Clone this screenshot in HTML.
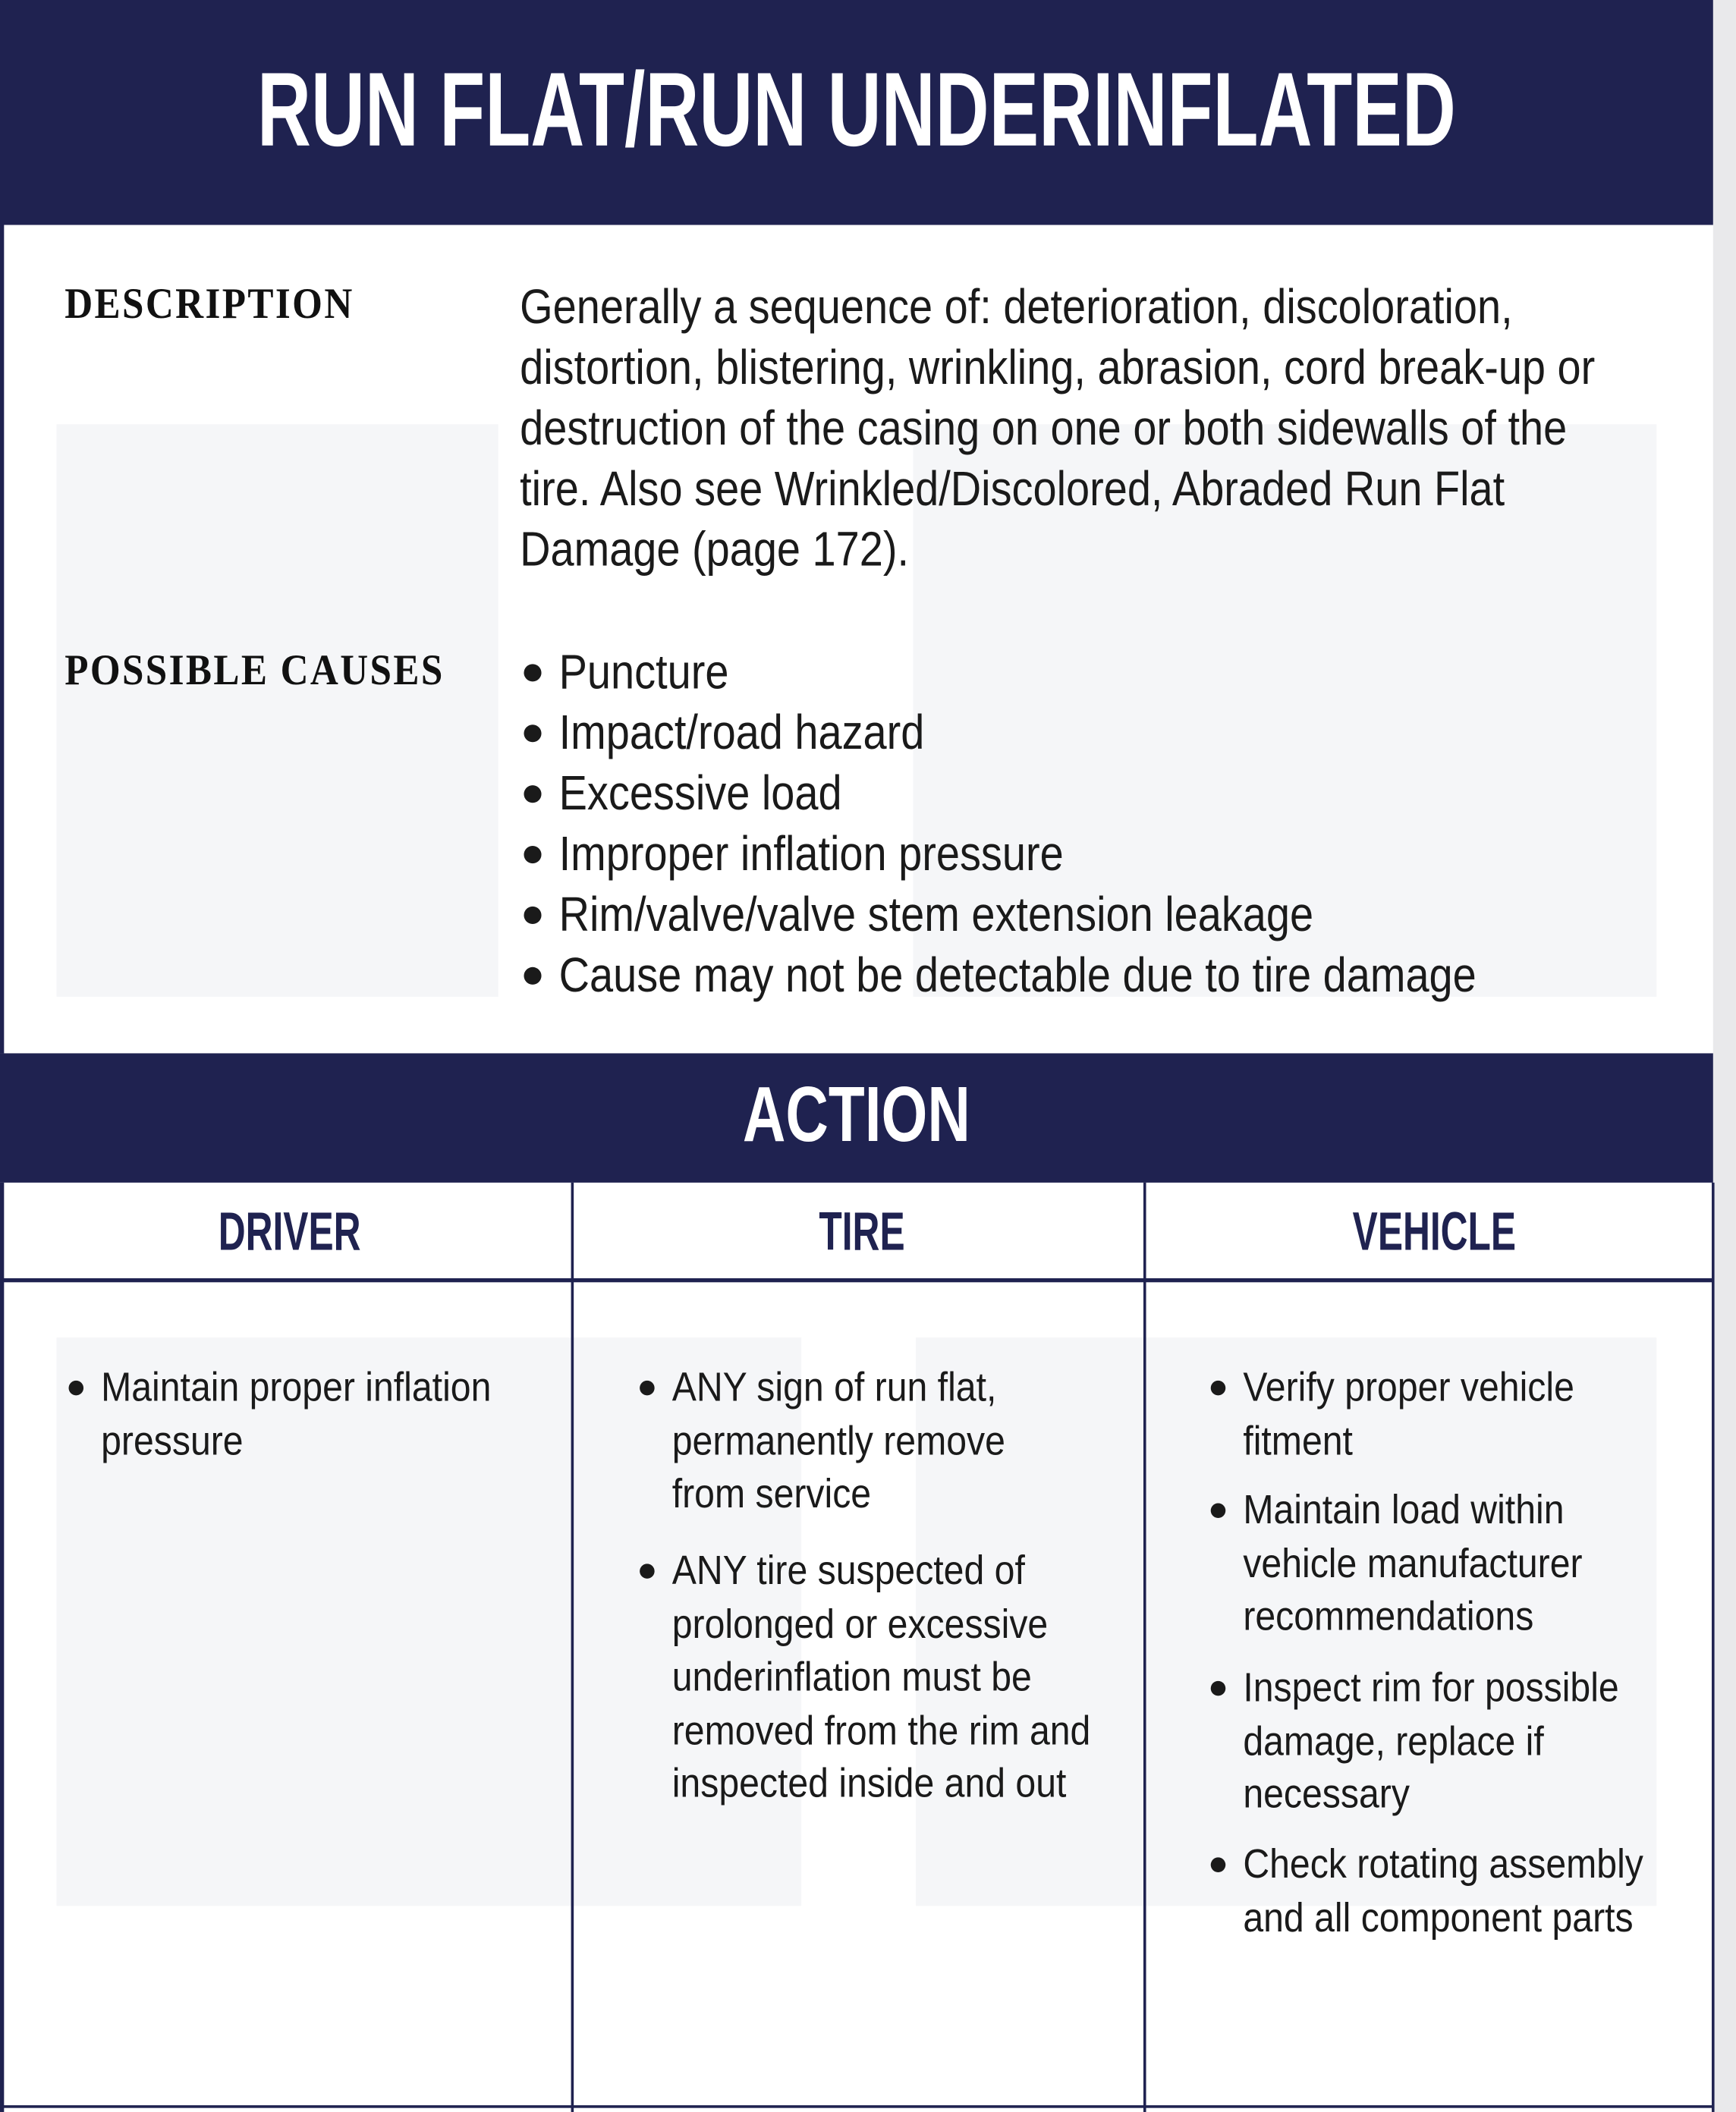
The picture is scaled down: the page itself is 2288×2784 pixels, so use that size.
<!DOCTYPE html>
<html><head><meta charset="utf-8"><style>
html,body{margin:0;padding:0;background:#fff;}
body{width:2288px;height:2784px;overflow:hidden;position:relative;}
#s{position:absolute;left:0;top:0;width:1289px;height:1568px;transform:scale(1.775,1.7755);transform-origin:0 0;background:#fff;font-family:"Liberation Sans",sans-serif;}
.a{position:absolute;white-space:nowrap;}
.t{font-size:36px;line-height:45px;color:#1a1a1a;transform:scaleX(0.875);transform-origin:0 0;}
.c{font-size:30.5px;line-height:39.5px;color:#1a1a1a;transform:scaleX(0.89);transform-origin:0 0;}
.lab{font-family:"Liberation Serif",serif;font-weight:bold;font-size:32px;color:#111;transform:scaleX(0.9);transform-origin:0 0;letter-spacing:1.5px;}
.navy{background:#1f2250;}
.gr{position:absolute;background:#f5f6f8;}
.hd{font-weight:bold;color:#1f2250;font-size:40px;width:400px;text-align:center;transform:scaleX(0.7);transform-origin:center 0;}
.d{position:absolute;width:13px;height:13px;border-radius:50%;background:#1a1a1a;}
.ds{position:absolute;width:11px;height:11px;border-radius:50%;background:#1a1a1a;}
</style></head><body><div id="s">
<div class="a" style="left:1272px;top:0;width:17px;height:1568px;background:#e9e9eb"></div>
<div class="a navy" style="left:0;top:0;width:1272px;height:167px"></div>
<div class="a" style="left:0;top:36px;width:1272px;text-align:center;color:#fff;font-weight:bold;font-size:78px;line-height:90px;transform:scaleX(0.71);transform-origin:636px 0">RUN FLAT/RUN UNDERINFLATED</div>
<div class="a" style="left:0;top:167px;width:3px;height:615px;background:#1f2250"></div>
<div class="gr" style="left:42px;top:315px;width:328px;height:425px"></div>
<div class="gr" style="left:678px;top:315px;width:552px;height:425px"></div>
<div class="a lab" style="left:48px;top:207px">DESCRIPTION</div>
<div class="a lab" style="left:48px;top:479px">POSSIBLE CAUSES</div>
<div class="a t" style="left:386px;top:205px">Generally a sequence of: deterioration, discoloration,<br>distortion, blistering, wrinkling, abrasion, cord break-up or<br>destruction of the casing on one or both sidewalls of the<br>tire. Also see Wrinkled/Discolored, Abraded Run Flat<br>Damage (page 172).</div>
<div class="d" style="left:389px;top:493px"></div>
<div class="d" style="left:389px;top:538px"></div>
<div class="d" style="left:389px;top:583px"></div>
<div class="d" style="left:389px;top:628px"></div>
<div class="d" style="left:389px;top:673px"></div>
<div class="d" style="left:389px;top:718px"></div>
<div class="a t" style="left:415px;top:476px">Puncture<br>Impact/road hazard<br>Excessive load<br>Improper inflation pressure<br>Rim/valve/valve stem extension leakage<br>Cause may not be detectable due to tire damage</div>
<div class="a navy" style="left:0;top:782px;width:1272px;height:96px"></div>
<div class="a" style="left:0;top:796px;width:1272px;text-align:center;color:#fff;font-weight:bold;font-size:58px;line-height:64px;transform:scaleX(0.76);transform-origin:636px 0">ACTION</div>
<div class="gr" style="left:42px;top:993px;width:553px;height:422px"></div>
<div class="gr" style="left:680px;top:993px;width:550px;height:422px"></div>
<div class="a" style="left:0;top:878px;width:3px;height:690px;background:#1f2250"></div>
<div class="a" style="left:424px;top:878px;width:2px;height:690px;background:#1f2250"></div>
<div class="a" style="left:849px;top:878px;width:2px;height:690px;background:#1f2250"></div>
<div class="a" style="left:1271px;top:878px;width:2px;height:690px;background:#1f2250"></div>
<div class="a" style="left:0;top:949px;width:1272px;height:3px;background:#1f2250"></div>
<div class="a" style="left:0;top:1563px;width:1272px;height:2px;background:#1f2250"></div>
<div class="a hd" style="left:15px;top:893px">DRIVER</div>
<div class="a hd" style="left:440px;top:893px">TIRE</div>
<div class="a hd" style="left:865px;top:893px">VEHICLE</div>
<div class="ds" style="left:51px;top:1025px"></div>
<div class="a c" style="left:75px;top:1011px">Maintain proper inflation<br>pressure</div>
<div class="ds" style="left:475px;top:1025px"></div>
<div class="a c" style="left:499px;top:1011px">ANY sign of run flat,<br>permanently remove<br>from service</div>
<div class="ds" style="left:475px;top:1161px"></div>
<div class="a c" style="left:499px;top:1147px">ANY tire suspected of<br>prolonged or excessive<br>underinflation must be<br>removed from the rim and<br>inspected inside and out</div>
<div class="ds" style="left:899px;top:1025px"></div>
<div class="a c" style="left:923px;top:1011px">Verify proper vehicle<br>fitment</div>
<div class="ds" style="left:899px;top:1116px"></div>
<div class="a c" style="left:923px;top:1102px">Maintain load within<br>vehicle manufacturer<br>recommendations</div>
<div class="ds" style="left:899px;top:1248px"></div>
<div class="a c" style="left:923px;top:1234px">Inspect rim for possible<br>damage, replace if<br>necessary</div>
<div class="ds" style="left:899px;top:1379px"></div>
<div class="a c" style="left:923px;top:1365px">Check rotating assembly<br>and all component parts</div>
</div></body></html>
